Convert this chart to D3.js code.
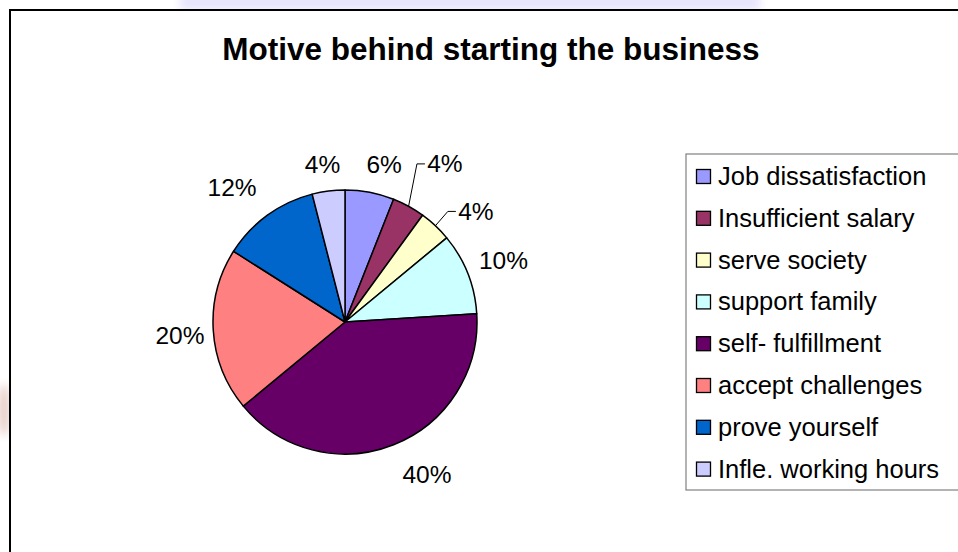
<!DOCTYPE html>
<html>
<head>
<meta charset="utf-8">
<script src="https://cdn.jsdelivr.net/npm/d3@7/dist/d3.min.js"></script>
<style>
  html, body { margin: 0; padding: 0; background: #fff; }
  svg { display: block; font-family: Arial, "Liberation Sans", sans-serif; }
</style>
</head>
<body>
<svg id="chart" width="958" height="552"></svg>
<script>
// Survey answers: motive behind starting the business (percent of respondents)
const categories = [
  "Job dissatisfaction",
  "Insufficient salary",
  "serve society",
  "support family",
  "self- fulfillment",
  "accept challenges",
  "prove yourself",
  "Infle. working hours"
];
const values = [6, 4, 4, 10, 40, 20, 12, 4];
const colors = ["#9999FF", "#993366", "#FFFFCC", "#CCFFFF", "#660066", "#FF8080", "#0066CC", "#CCCCFF"];
const title = "Motive behind starting the business";

const svg = d3.select("#chart");
const W = 958, H = 552;

// faint backdrop showing around the chart frame
const defs = svg.append("defs");
defs.append("filter").attr("id", "soft")
  .append("feGaussianBlur").attr("stdDeviation", 4);
svg.append("rect").attr("x", 180).attr("y", -6).attr("width", 580).attr("height", 16)
  .attr("fill", "#e6e4fb").attr("filter", "url(#soft)");
svg.append("ellipse").attr("cx", 4).attr("cy", 410).attr("rx", 6).attr("ry", 26)
  .attr("fill", "#e8cfc8").attr("filter", "url(#soft)");

// chart area
svg.append("rect")
  .attr("x", 10).attr("y", 10).attr("width", W + 20).attr("height", H + 20)
  .attr("fill", "#fff").attr("stroke", "#000").attr("stroke-width", 2);

svg.append("text")
  .attr("x", 491).attr("y", 60)
  .attr("text-anchor", "middle")
  .attr("font-size", 31.5).attr("font-weight", "bold")
  .attr("fill", "#000")
  .text(title);

// pie
const cx = 345, cy = 322, r = 132;
const data = categories.map((c, i) => ({ name: c, value: values[i], color: colors[i] }));
const pie = d3.pie().value(d => d.value).sort(null);
const arcs = pie(data);
const arc = d3.arc().innerRadius(0).outerRadius(r);

const g = svg.append("g").attr("transform", `translate(${cx},${cy})`);
g.selectAll("path.slice")
  .data(arcs)
  .join("path")
  .attr("class", "slice")
  .attr("d", arc)
  .attr("fill", d => d.data.color)
  .attr("stroke", "#000")
  .attr("stroke-width", 1.5)
  .attr("stroke-linejoin", "round");

// percentage labels: radial distance (in radii) and angular nudge (degrees)
const labelPlace = [
  [1.233, 3.1], [1.417, 3.5], [1.298, 6.6], [1.288, 0.4],
  [1.31, -6.7], [1.254, -0.9], [1.328, -4.1], [1.209, -0.9]
];
const rad = Math.PI / 180;
const labelPos = arcs.map((d, i) => {
  const a = (d.startAngle + d.endAngle) / 2 + labelPlace[i][1] * rad;
  const rr = r * labelPlace[i][0];
  return [Math.sin(a) * rr, -Math.cos(a) * rr];
});

const labelG = g.append("g");
arcs.forEach((d, i) => {
  labelG.append("text")
    .attr("x", labelPos[i][0]).attr("y", labelPos[i][1])
    .attr("text-anchor", "middle")
    .attr("dominant-baseline", "central")
    .attr("font-size", 24.5)
    .attr("fill", "#000")
    .text(d.data.value + "%");
});

// leader lines for the two narrow slices on the upper right
[1, 2].forEach(i => {
  const d = arcs[i];
  const mid = (d.startAngle + d.endAngle) / 2;
  const p0 = [Math.sin(mid) * r, -Math.cos(mid) * r];
  const [lx, ly] = labelPos[i];
  const textLeft = lx - 18;
  labelG.append("polyline")
    .attr("points", [p0, [textLeft - 10, ly], [textLeft - 2, ly]].map(p => p.join(",")).join(" "))
    .attr("fill", "none").attr("stroke", "#000").attr("stroke-width", 1);
});

// legend
const lx = 686, ly = 154, rowH = 41.8;
svg.append("rect")
  .attr("x", lx).attr("y", ly).attr("width", 300).attr("height", 336)
  .attr("fill", "#fff").attr("stroke", "#808080").attr("stroke-width", 1.2);
const leg = svg.append("g");
data.forEach((d, i) => {
  const base = 185 + i * rowH;
  leg.append("rect")
    .attr("x", 696.5).attr("y", base - 15.5).attr("width", 14).attr("height", 14)
    .attr("fill", d.color).attr("stroke", "#000").attr("stroke-width", 1.3);
  leg.append("text")
    .attr("x", 718).attr("y", base)
    .attr("font-size", 25.5).attr("fill", "#000")
    .text(d.name);
});
</script>
</body>
</html>
